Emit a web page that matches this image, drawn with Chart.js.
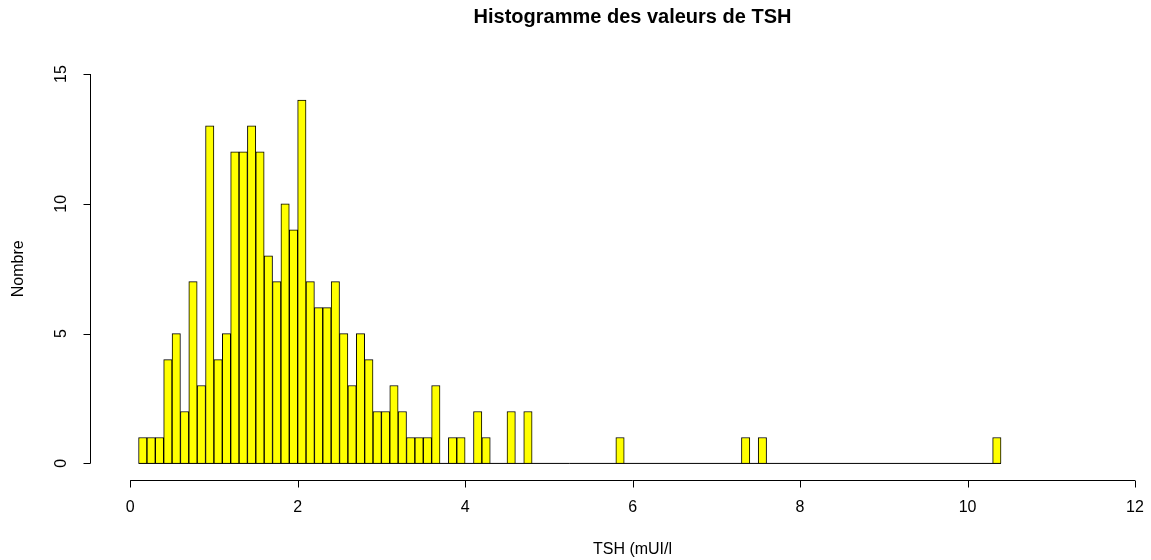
<!DOCTYPE html>
<html>
<head>
<meta charset="utf-8">
<script src="https://cdn.jsdelivr.net/npm/chart.js@4.4.1/dist/chart.umd.min.js"></script>
<style>
  body{margin:0;background:#fff;}
  #wrap{width:1151px;height:560px;}
</style>
</head>
<body>
<div id="wrap"><canvas id="hist" width="1151" height="560"></canvas></div>
<script>
// histogram of TSH values, bins of 0.1 from 0.1 to 10.4
const binStart = 0.1;
const binWidth = 0.1;
const counts = [
  1, 1, 1, 4, 5, 2, 7, 3, 13, 4,      // 0.1 - 1.0
  5, 12, 12, 13, 12, 8, 7, 10, 9, 14, // 1.1 - 2.0
  7, 6, 6, 7, 5, 3, 5, 4, 2, 2,       // 2.1 - 3.0
  3, 2, 1, 1, 1, 3, 0, 1, 1, 0,       // 3.1 - 4.0
  2, 1, 0, 0, 2, 0, 2, 0, 0, 0,       // 4.1 - 5.0
  0, 0, 0, 0, 0, 0, 0, 1, 0, 0,       // 5.1 - 6.0
  0, 0, 0, 0, 0, 0, 0, 0, 0, 0,       // 6.1 - 7.0
  0, 0, 1, 0, 1, 0, 0, 0, 0, 0,       // 7.1 - 8.0
  0, 0, 0, 0, 0, 0, 0, 0, 0, 0,       // 8.1 - 9.0
  0, 0, 0, 0, 0, 0, 0, 0, 0, 0,       // 9.1 - 10.0
  0, 0, 1                             // 10.1 - 10.3
];
const xTicks = [0, 2, 4, 6, 8, 10, 12];
const yTicks = [0, 5, 10, 15];

const titleText = 'Histogramme des valeurs de TSH';
const xTitle = 'TSH (mUI/l';
const yTitle = 'Nombre';

const barData = counts.map((c, i) => ({x: binStart + binWidth * i + binWidth / 2, y: c}));
const lastEdge = binStart + binWidth * counts.length;

// R-style axes, drawn from the chart scales
const rAxes = {
  id: 'rAxes',
  afterDraw(chart){
    const ctx = chart.ctx;
    const xs = chart.scales.x, ys = chart.scales.y;
    const area = chart.chartArea;
    ctx.save();
    ctx.strokeStyle = '#000';
    ctx.fillStyle = '#000';
    ctx.lineWidth = 1;

    // x axis
    const axY = Math.round(area.bottom + 1) + 0.5;
    ctx.beginPath();
    ctx.moveTo(xs.getPixelForValue(xTicks[0]), axY);
    ctx.lineTo(xs.getPixelForValue(xTicks[xTicks.length - 1]), axY);
    xTicks.forEach(t => {
      const px = Math.round(xs.getPixelForValue(t)) + 0.5;
      ctx.moveTo(px, axY);
      ctx.lineTo(px, axY + 7);
    });
    ctx.stroke();
    ctx.font = '16px "Liberation Sans", Arial, sans-serif';
    ctx.textAlign = 'center';
    ctx.textBaseline = 'middle';
    xTicks.forEach(t => ctx.fillText(String(t), xs.getPixelForValue(t), 508));

    // y axis
    const axX = Math.round(area.left) + 0.5;
    ctx.beginPath();
    ctx.moveTo(axX, ys.getPixelForValue(yTicks[0]));
    ctx.lineTo(axX, ys.getPixelForValue(yTicks[yTicks.length - 1]));
    yTicks.forEach(t => {
      const py = Math.round(ys.getPixelForValue(t)) + 0.5;
      ctx.moveTo(axX, py);
      ctx.lineTo(axX - 7, py);
    });
    ctx.stroke();
    yTicks.forEach(t => {
      ctx.save();
      ctx.translate(62, ys.getPixelForValue(t));
      ctx.rotate(-Math.PI / 2);
      ctx.fillText(String(t), 0, 0);
      ctx.restore();
    });

    // titles
    const midX = (area.left + 1175) / 2;
    ctx.fillText(xTitle, midX, 550);
    ctx.save();
    ctx.translate(19, (area.top - 15.5 + area.bottom) / 2);
    ctx.rotate(-Math.PI / 2);
    ctx.fillText(yTitle, 0, 0);
    ctx.restore();
    ctx.font = 'bold 20px "Liberation Sans", Arial, sans-serif';
    ctx.fillText(titleText, midX, 17);
    ctx.restore();
  }
};

new Chart(document.getElementById('hist'), {
  data: {
    datasets: [
      {
        type: 'bar',
        data: barData,
        backgroundColor: '#ffff00',
        borderColor: '#000',
        borderWidth: 1,
        barPercentage: 1,
        categoryPercentage: 1,
        order: 1
      },
      {
        // baseline under empty bins
        type: 'line',
        data: [{x: binStart, y: 0}, {x: lastEdge, y: 0}],
        borderColor: '#000',
        borderWidth: 1,
        pointRadius: 0,
        order: 0
      }
    ]
  },
  options: {
    responsive: false,
    animation: false,
    layout: {padding: {left: 90, right: 16, top: 74, bottom: 81}},
    plugins: {legend: {display: false}, tooltip: {enabled: false}, title: {display: false}},
    scales: {
      x: {type: 'linear', min: -0.48, max: 12, offset: false, display: false},
      y: {type: 'linear', min: -0.6, max: 15, display: false}
    }
  },
  plugins: [rAxes]
});
</script>
</body>
</html>
